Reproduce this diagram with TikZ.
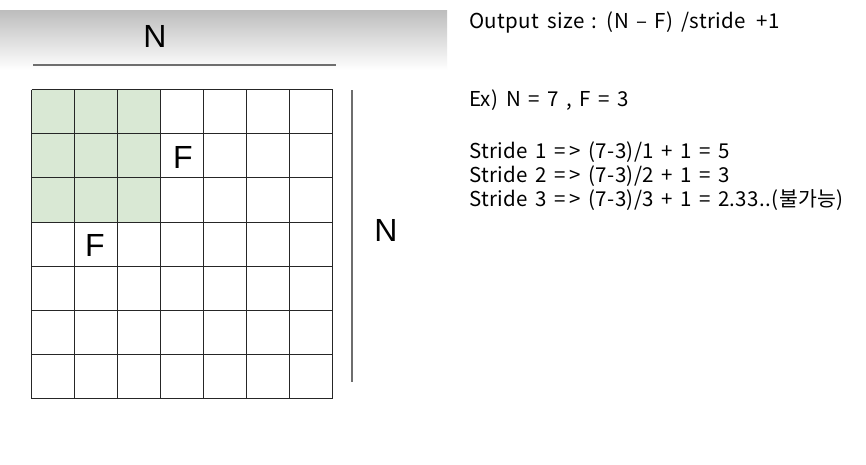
\documentclass[tikz,border=0pt]{standalone}
\usepackage{fontspec}
\usepackage{xcolor}
\usetikzlibrary{positioning}
\newfontfamily\gridfont{Liberation Sans}
\newfontfamily\krfont[WordSpace=1.5,LetterSpace=2]{Noto Sans CJK KR}
\definecolor{cellgreen}{HTML}{D9E8D4}
\definecolor{gridline}{HTML}{262626}
\definecolor{rulegray}{HTML}{6E6E6E}
\tikzset{
  biglabel/.style={font=\gridfont\fontsize{32}{32}\selectfont,inner sep=0pt},
  rulestext/.style={font=\krfont\fontsize{20.5}{24}\selectfont,anchor=base west,inner sep=0pt}
}

\begin{document}
\begin{tikzpicture}[x=1pt,y=-1pt]
  \useasboundingbox (0,0) rectangle (866,464);
  \fill[white] (0,0) rectangle (866,464);
  % banner behind the top N
  \shade[top color=black!26,bottom color=white] (0,10) rectangle (447,70);

  % 7x7 input with the 3x3 filter window
  \fill[cellgreen] (31.5,89.5) rectangle (160.7,222.1);
  \foreach \i in {0,...,7}{
    \draw[gridline,line width=1pt] (31.5+\i*43.07,89.5) -- (31.5+\i*43.07,399);
    \draw[gridline,line width=1pt] (31.5,89.5+\i*44.21) -- (333,89.5+\i*44.21);
  }
  \node[biglabel] (f1) at (183,157) {F};
  \node[biglabel] (f2) at (95,245) {F};

  % size marks
  \node[biglabel] (ntop) at (155,36) {N};
  \node[biglabel] (nside) at (386,230) {N};
  \coordinate (topl) at (33,65);
  \coordinate (topr) at (336,65);
  \coordinate (sidet) at (352,90);
  \coordinate (sideb) at (352,382);
  \draw[rulegray,line width=1.6pt] (topl) -- (topr);
  \draw[rulegray,line width=1.6pt] (sidet) -- (sideb);

  % formula and example
  \node[rulestext] (formula) at (469,28) {Output size : (N – F) /stride\,\ +1};
  \node[rulestext] (example) at (469,106) {Ex) N = 7 , F = 3};
  \node[rulestext] (stride1) at (469,158) {Stride 1 =\,> (7-3)/1 + 1 = 5};
  \node[rulestext] (stride2) at (469,182) {Stride 2 =\,> (7-3)/2 + 1 = 3};
  \node[rulestext] (stride3) at (469,206) {Stride 3 =\,> (7-3)/3 + 1 = 2.33..(불가능)};
\end{tikzpicture}
\end{document}
